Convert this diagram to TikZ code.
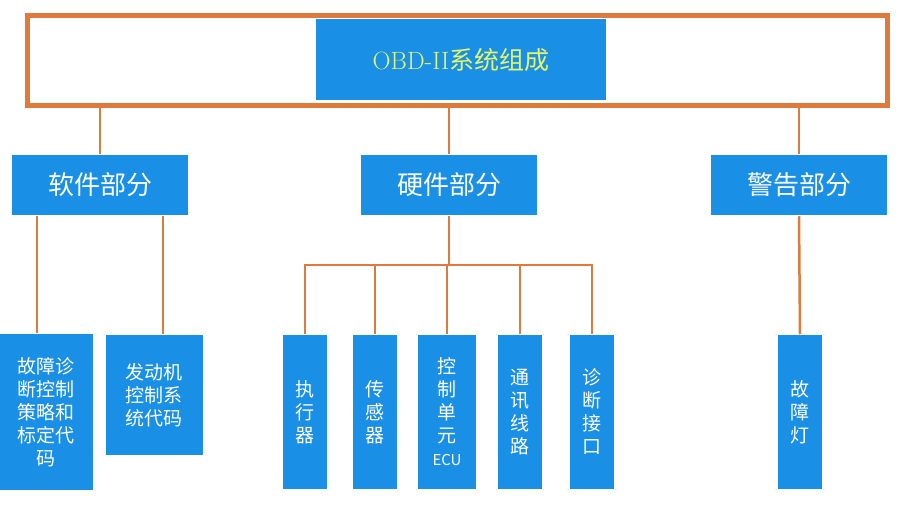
\documentclass[tikz,border=0pt]{standalone}
\usepackage{fontspec}
\newfontfamily\cjk{Noto Sans CJK SC}
\usetikzlibrary{positioning}
\definecolor{boxblue}{HTML}{1A8FE6}
\definecolor{lineorange}{HTML}{E07A3A}
\definecolor{titlegreen}{HTML}{E4F56A}
\begin{document}
\begin{tikzpicture}[x=1pt,y=-1pt,line width=2.5pt,draw=lineorange]
	\tikzset{blk/.style={fill=boxblue,text=white,inner sep=0pt,align=center,font=\cjk\fontsize{19}{23}\selectfont},
		mid/.style={blk,minimum width=176pt,minimum height=60pt,font=\cjk\fontsize{26}{30}\selectfont}}
	\useasboundingbox (0,0) rectangle (916,521);
	\fill[white] (0,0) rectangle (916,521);
	\draw[lineorange,line width=5pt] (27,16) rectangle (887,106);
	\node[blk,minimum width=290pt,minimum height=81pt,text=titlegreen,font=\fontsize{25}{30}\selectfont] (top) at (461,60) {OBD-II{\cjk 系统组成}};
	% second row
	\node[mid] (soft) at (100,185) {软件部分};
	\node[mid] (hard) at (449,185) {硬件部分};
	\node[mid] (warn) at (799,185) {警告部分};
	% leaves
	\node[blk,minimum width=93pt,minimum height=155pt] (s1) at (46,412) {故障诊\\断控制\\策略和\\标定代\\码};
	\node[blk,minimum width=97pt,minimum height=120pt] (s2) at (154,395) {发动机\\控制系\\统代码};
	\node[blk,minimum width=44pt,minimum height=153pt] (h1) at (305,412) {执\\行\\器};
	\node[blk,minimum width=44pt,minimum height=153pt] (h2) at (375,412) {传\\感\\器};
	\node[blk,minimum width=58pt,minimum height=153pt] (h3) at (447,412) {控\\制\\单\\元\\{\fontsize{15}{18}\selectfont ECU}};
	\node[blk,minimum width=44pt,minimum height=153pt] (h4) at (520,412) {通\\讯\\线\\路};
	\node[blk,minimum width=44pt,minimum height=153pt] (h5) at (592,412) {诊\\断\\接\\口};
	\node[blk,minimum width=44pt,minimum height=153pt] (w1) at (800,412) {故\\障\\灯};
	% connectors
	\draw (soft.north) -- ++(0,-47);
	\draw (hard.north) -- ++(0,-47);
	\draw (warn.north) -- ++(0,-47);
	\draw ([xshift=-9pt]s1.north) -- ([xshift=-9pt]s1.north |- soft.south);
	\draw ([xshift=9pt]s2.north) -- ([xshift=9pt]s2.north |- soft.south);
	\coordinate (bus) at (449,265);
	\draw (hard.south) -- (bus);
	\draw (h1.north) -- (h1.north |- bus) -- (h5.north |- bus) -- (h5.north);
	\draw (h2.north) -- (h2.north |- bus);
	\draw (h3.north) -- (h3.north |- bus);
	\draw (h4.north) -- (h4.north |- bus);
	\draw (warn.south) -- (w1.north);
\end{tikzpicture}
\end{document}
